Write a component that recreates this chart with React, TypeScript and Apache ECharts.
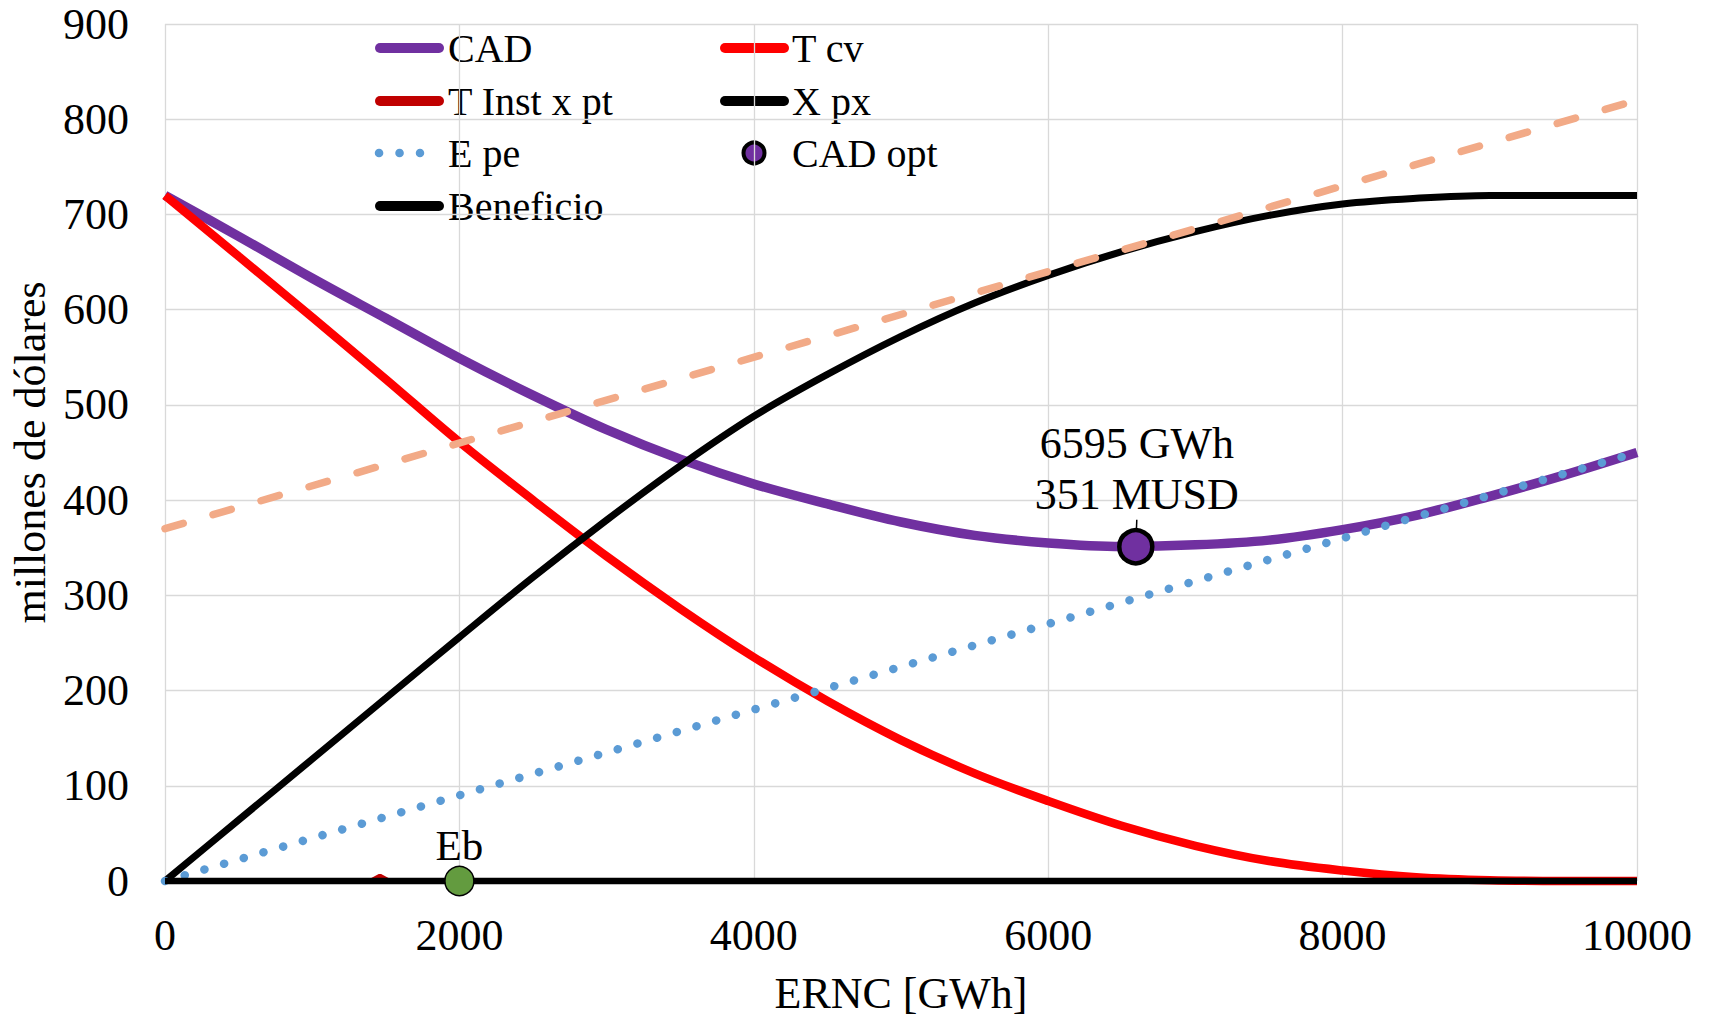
import React, { useEffect, useRef } from "react";
import * as echarts from "echarts";

// ---- data ----
const xValues = [0, 500, 1000, 1500, 2000, 2500, 3000, 3500, 4000, 4500, 5000, 5500, 6000, 6500, 7000, 7500, 8000, 8500, 9000, 9500, 10000];
const cadValues = [720, 677, 633, 591, 549, 510, 474, 443, 417, 396, 377, 363, 355, 351.3, 353, 358, 369, 384, 404, 426, 450];
const tcvValues = [720, 656, 592, 527, 461, 400, 341, 286, 235, 189, 148, 113, 84, 58, 37, 21, 11, 4, 0.8, 0, 0];
const xpxValues = [0, 64, 128, 192, 256, 319, 379, 436, 488, 532, 572, 607, 636, 661, 682, 699, 711, 717, 720, 720, 720];
const epeValues = [0, 22.5, 45, 67.5, 90, 112.5, 135, 157.5, 180, 202.5, 225, 247.5, 270, 292.5, 315, 337.5, 360, 382.5, 405, 427.5, 450];
const tInstX = [0, 1400, 1460, 1520, 10000];
const tInstValues = [0, 0, 5, 0, 0];
const beneficioX = [0, 10000];
const beneficioValues = [0, 0];
const trendX = [0, 10000];
const trendValues = [370, 820];
const optPoint = { x: 6595, y: 351 };
const ebPoint = { x: 2000, y: 0, label: "Eb" };

const xAxisMin = 0, xAxisMax = 10000, xAxisInterval = 2000;
const yAxisMin = 0, yAxisMax = 900, yAxisInterval = 100;

const FONT = '"Liberation Serif", "Times New Roman", serif';

const pairs = (xs: number[], ys: number[]) => xs.map((x, i) => [x, ys[i]]);

type LegendItem = { name: string; color: string; kind: "line" | "dots" | "marker"; col: number; row: number };
const legendItems: LegendItem[] = [
  { name: "CAD", color: "#7030A0", kind: "line", col: 0, row: 0 },
  { name: "T Inst x pt", color: "#C00000", kind: "line", col: 0, row: 1 },
  { name: "E pe", color: "#5B9BD5", kind: "dots", col: 0, row: 2 },
  { name: "Beneficio", color: "#000000", kind: "line", col: 0, row: 3 },
  { name: "T cv", color: "#FF0000", kind: "line", col: 1, row: 0 },
  { name: "X px", color: "#000000", kind: "line", col: 1, row: 1 },
  { name: "CAD opt", color: "#7030A0", kind: "marker", col: 1, row: 2 },
];

function buildLegend() {
  const colX = [380, 725];
  const textX = [448, 792];
  const rowY = [48, 101, 153, 206];
  const els: any[] = [];
  legendItems.forEach((it) => {
    const y = rowY[it.row];
    const x1 = colX[it.col];
    if (it.kind === "line") {
      els.push({
        type: "line",
        shape: { x1, y1: y, x2: x1 + 59, y2: y },
        style: { stroke: it.color, lineWidth: 10, lineCap: "round" },
        silent: true,
      });
    } else if (it.kind === "dots") {
      els.push({
        type: "line",
        shape: { x1: x1 - 1, y1: y, x2: x1 + 40, y2: y },
        style: { stroke: it.color, lineWidth: 8.5, lineCap: "round", lineDash: [0.1, 20.4] },
        silent: true,
      });
    } else {
      els.push({
        type: "circle",
        shape: { cx: x1 + 29, cy: y, r: 10.5 },
        style: { fill: it.color, stroke: "#000", lineWidth: 4 },
        silent: true,
      });
    }
    els.push({
      type: "text",
      x: textX[it.col],
      y: y,
      style: {
        text: it.name,
        fontSize: 40,
        fontFamily: FONT,
        fill: "#000",
        textAlign: "left",
        textVerticalAlign: "middle",
      },
      silent: true,
    });
  });
  return els;
}

export default function App() {
  const ref = useRef<HTMLDivElement>(null);
  useEffect(() => {
    if (!ref.current) return;
    const chart = echarts.init(ref.current, undefined, { renderer: "svg" });
    const lineBase = { type: "line", symbol: "none", clip: false, silent: true };
    const option: any = {
      animation: false,
      backgroundColor: "#ffffff",
      grid: { left: 165, right: 77, top: 24, bottom: 134, containLabel: false },
      xAxis: {
        type: "value",
        min: xAxisMin,
        max: xAxisMax,
        interval: xAxisInterval,
        name: "ERNC [GWh]",
        nameLocation: "middle",
        nameGap: 90,
        nameTextStyle: { fontSize: 44, fontFamily: FONT, color: "#000" },
        axisLine: { show: false },
        axisTick: { show: false },
        axisLabel: { fontSize: 44, fontFamily: FONT, color: "#000", margin: 32, formatter: (v: number) => String(v) },
        splitLine: { show: true, lineStyle: { color: "#D9D9D9", width: 1.3 } },
      },
      yAxis: {
        type: "value",
        min: yAxisMin,
        max: yAxisMax,
        interval: yAxisInterval,
        name: "millones de dólares",
        nameLocation: "middle",
        nameGap: 109,
        nameRotate: 90,
        nameTextStyle: { fontSize: 44, fontFamily: FONT, color: "#000" },
        axisLine: { show: false },
        axisTick: { show: false },
        axisLabel: { fontSize: 44, fontFamily: FONT, color: "#000", margin: 36, formatter: (v: number) => String(v) },
        splitLine: { show: true, lineStyle: { color: "#D9D9D9", width: 1.3 } },
      },
      graphic: { elements: buildLegend() },
      series: [
        {
          ...lineBase,
          name: "CAD",
          data: pairs(xValues, cadValues),
          smooth: 0.35,
          lineStyle: { color: "#7030A0", width: 9.5 },
          z: 2,
        },
        {
          ...lineBase,
          name: "T cv",
          data: pairs(xValues, tcvValues),
          smooth: 0.35,
          lineStyle: { color: "#FF0000", width: 8.5 },
          z: 3,
        },
        {
          ...lineBase,
          name: "T Inst x pt",
          data: pairs(tInstX, tInstValues),
          lineStyle: { color: "#C00000", width: 5 },
          z: 3,
        },
        {
          ...lineBase,
          name: "X px",
          data: pairs(xValues, xpxValues),
          smooth: 0.35,
          lineStyle: { color: "#000000", width: 7 },
          z: 4,
        },
        {
          ...lineBase,
          name: "E pe",
          data: pairs(xValues, epeValues),
          lineStyle: { color: "#5B9BD5", width: 8.5, type: [0.1, 20.4], cap: "round" },
          z: 5,
        },
        {
          ...lineBase,
          name: "Beneficio",
          data: pairs(beneficioX, beneficioValues),
          lineStyle: { color: "#000000", width: 6.5 },
          z: 6,
        },
        {
          ...lineBase,
          name: "Tendencia",
          data: pairs(trendX, trendValues),
          lineStyle: { color: "#F2AA87", width: 7.5, type: [19, 31], cap: "round" },
          z: 7,
        },
        {
          name: "CAD opt",
          type: "scatter",
          data: [[optPoint.x, optPoint.y]],
          symbol: "circle",
          symbolSize: 33,
          clip: false,
          silent: true,
          itemStyle: { color: "#7030A0", borderColor: "#000", borderWidth: 4.5, opacity: 1 },
          label: {
            show: true,
            position: "inside",
            formatter: (p: any) => `${Math.round(p.value[0])} GWh\n${Math.round(p.value[1])} MUSD`,
            fontSize: 44,
            lineHeight: 51,
            fontFamily: FONT,
            color: "#000",
            opacity: 1,
            align: "center",
          },
          labelLayout: { dx: 1, dy: -78 },
          labelLine: { show: true, lineStyle: { color: "#000", width: 1.5, opacity: 1 } },
          z: 10,
        },
        {
          name: "Eb",
          type: "scatter",
          data: [[ebPoint.x, ebPoint.y]],
          symbol: "circle",
          symbolSize: 29,
          clip: false,
          silent: true,
          itemStyle: { color: "#639B3F", borderColor: "#000", borderWidth: 1.5, opacity: 1 },
          label: {
            show: true,
            position: "top",
            distance: -1,
            formatter: () => ebPoint.label,
            fontSize: 43,
            fontFamily: FONT,
            color: "#000",
            opacity: 1,
          },
          z: 10,
        },
      ],
    };
    chart.setOption(option);
    return () => chart.dispose();
  }, []);
  return (
    <div
      ref={ref}
      style={{ position: "absolute", left: 0, top: 0, width: 1714, height: 1020, background: "#fff" }}
    />
  );
}
